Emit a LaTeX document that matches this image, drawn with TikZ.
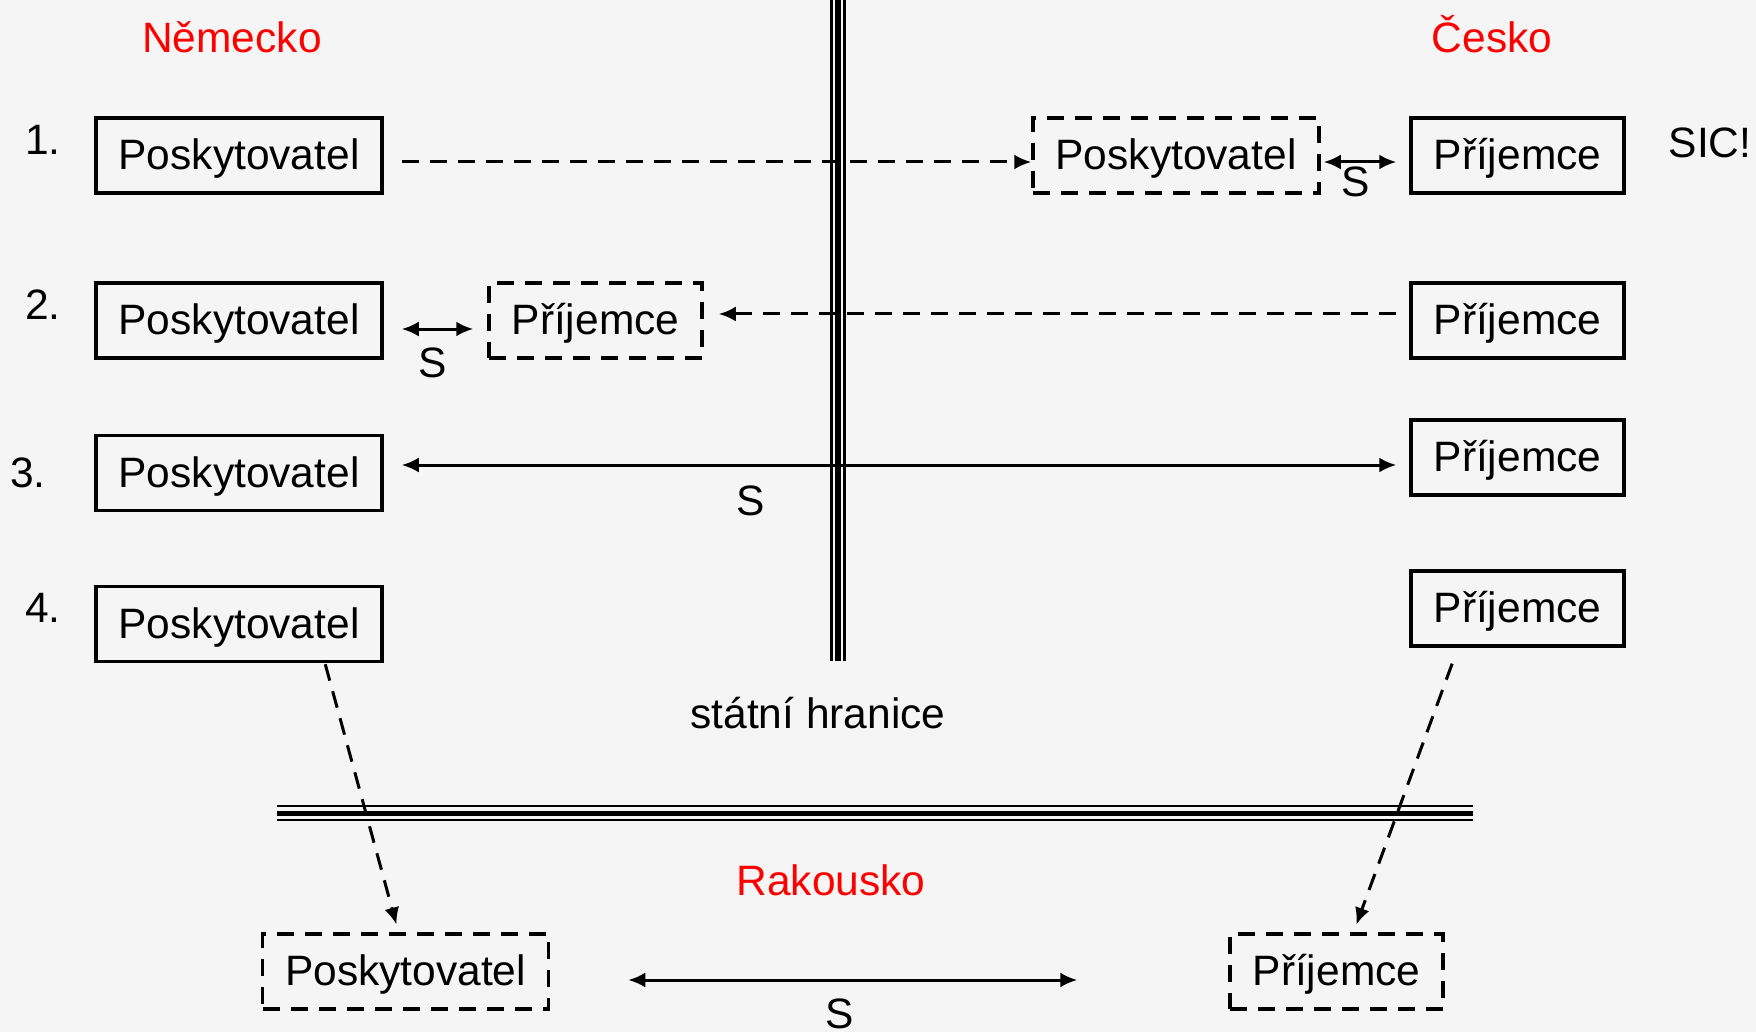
\documentclass[tikz,border=0pt]{standalone}
\usepackage{fontspec}
\setmainfont{Liberation Sans}
\usetikzlibrary{arrows.meta}
\usetikzlibrary{calc}
\usetikzlibrary{positioning}
\definecolor{bgcol}{HTML}{F5F5F5}
\definecolor{landcol}{HTML}{FF0000}

\begin{document}
\begin{tikzpicture}[x=1pt,y=-1pt,
    font=\fontsize{42.5}{50}\selectfont,
    solidbox/.style={draw,line width=3.5pt,inner sep=0pt,minimum height=75pt,
      text height=34pt,text depth=6pt},
    dashbox/.style={solidbox,dash pattern=on 17pt off 11pt},
    widebox/.style={minimum width=286pt},
    narrowbox/.style={minimum width=213pt},
    land/.style={text=landcol,inner sep=0pt},
    lbl/.style={inner sep=1pt},
    link/.style={line width=3pt,>={Latex[length=17pt,width=15pt]}},
    dlink/.style={link,dash pattern=on 17pt off 11pt}]

  \useasboundingbox (0,0) rectangle (1756,1032);
  \fill [bgcol] (0,0) rectangle (1756,1032);

  % borders
  \draw [line width=2.5pt] (831.3,0) -- (831.3,661);
  \draw [line width=6pt] (838,0) -- (838,661);
  \draw [line width=2.5pt] (844.5,0) -- (844.5,661);
  \draw [line width=2.5pt] (277,806) -- (1473,806);
  \draw [line width=5.5pt] (277,813.5) -- (1473,813.5);
  \draw [line width=2.5pt] (277,820) -- (1473,820);

  % countries and labels
  \node [land] (de) at (232,37) {Německo};
  \node [land] (cz) at (1492,34) {Česko};
  \node [land] (at) at (831,880) {Rakousko};
  \node [lbl] (sic) at (1710,143) {SIC!};
  \node [lbl] (hranice) at (818,713) {státní hranice};

  \node [lbl] (n_1) at (43,140) {1.};
  \node [lbl] (n_2) at (43,305) {2.};
  \node [lbl] (n_3) at (28,473) {3.};
  \node [lbl] (n_4) at (43,608) {4.};

  % boxes
  \node [solidbox,widebox] (P_1) at (239,155.5) {Poskytovatel};
  \node [solidbox,widebox] (P_2) at (239,320.5) {Poskytovatel};
  \node [solidbox,widebox] (P_3) at (239,473) {Poskytovatel};
  \node [solidbox,widebox] (P_4) at (239,624) {Poskytovatel};

  \node [solidbox,narrowbox] (R_1) at (1517.5,155.5) {Příjemce};
  \node [solidbox,narrowbox] (R_2) at (1517.5,320.5) {Příjemce};
  \node [solidbox,narrowbox] (R_3) at (1517.5,457.5) {Příjemce};
  \node [solidbox,narrowbox] (R_4) at (1517.5,608.5) {Příjemce};

  \node [dashbox,widebox]   (DP_1) at (1176,155.5) {Poskytovatel};
  \node [dashbox,narrowbox] (DR_2) at (595.5,320.5) {Příjemce};
  \node [dashbox,widebox]   (DP_5) at (405.5,971.5) {Poskytovatel};
  \node [dashbox,narrowbox] (DR_5) at (1336.5,971.5) {Příjemce};

  % connectors
  \draw [dlink,->,shorten <=18pt] ([yshift=-6.5pt]P_1.east) -- ([yshift=-6.5pt]DP_1.west);
  \draw [link,<->,shorten <=3pt,shorten >=13pt]
    ([yshift=-6.5pt]DP_1.east) -- node [lbl,below=2pt,pos=0.39] {S} ([yshift=-6.5pt]R_1.west);

  \draw [link,<->,shorten <=18pt,shorten >=14pt]
    ([yshift=-8.5pt]P_2.east) -- node [lbl,below=16pt,pos=0.47] {S} ([yshift=-8.5pt]DR_2.west);
  \draw [dlink,->,shorten <=13pt,shorten >=15pt] ([yshift=6.5pt]R_2.west) -- ([yshift=6.5pt]DR_2.east);

  \draw [link,<->,shorten <=18pt,shorten >=13pt]
    ([yshift=8pt]P_3.east) -- node [lbl,below=18pt,pos=0.358] {S} ([yshift=-7.5pt]R_3.west);

  \draw [dlink,->,shorten <=1pt,shorten >=8pt] ([xshift=86pt]P_4.south) -- ([xshift=-7pt]DP_5.north);
  \draw [dlink,->,shorten <=17pt,shorten >=8pt] ([xshift=-59.5pt]R_4.south) -- ([xshift=17pt]DR_5.north);

  \draw [link,<->,shorten <=78pt,shorten >=151pt]
    ([yshift=-8.5pt]DP_5.east) -- node [lbl,below=16pt,pos=0.427] {S} ([yshift=-8.5pt]DR_5.west);

\end{tikzpicture}
\end{document}
